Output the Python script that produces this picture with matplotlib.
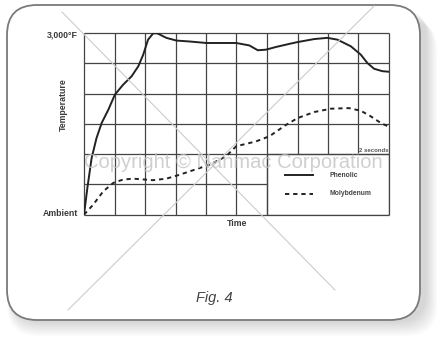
import matplotlib.pyplot as plt
from matplotlib.patches import FancyBboxPatch, Rectangle

# time in grid columns (10 columns of 2 s), temperature in grid rows (6 = 3,000 F)
phen_t = [0.0, 0.11, 0.25, 0.41, 0.58, 0.8, 1.01, 1.28, 1.56, 1.78, 1.94, 2.1,
          2.27, 2.4, 2.7, 3.03, 3.46, 4.01, 4.99, 5.42, 5.7, 5.97, 6.3, 6.73,
          7.0, 7.55, 7.98, 8.31, 8.75, 9.08, 9.29, 9.51, 9.78, 10.0]
phen_y = [0.0, 0.88, 1.87, 2.53, 3.03, 3.47, 3.96, 4.29, 4.57, 4.9, 5.28, 5.78,
          5.99, 5.99, 5.84, 5.75, 5.72, 5.67, 5.67, 5.59, 5.43, 5.45, 5.54, 5.64,
          5.7, 5.8, 5.84, 5.78, 5.56, 5.28, 5.01, 4.82, 4.74, 4.72]
moly_t = [0.0, 0.3, 0.63, 0.96, 1.28, 1.61, 2.26, 2.7, 3.14, 3.46, 4.12, 4.66,
          4.99, 5.64, 6.08, 6.6, 7.0, 7.55, 8.09, 8.69, 9.08, 9.4, 9.73, 10.0]
moly_y = [0.0, 0.33, 0.77, 1.05, 1.16, 1.19, 1.14, 1.19, 1.32, 1.43, 1.65, 1.93,
          2.26, 2.42, 2.59, 2.95, 3.19, 3.39, 3.5, 3.52, 3.43, 3.25, 3.03, 2.9]
series_names = ['Phenolic', 'Molybdenum']

W, H = 437, 346
plt.rcParams['font.family'] = ['Liberation Sans', 'DejaVu Sans']
fig = plt.figure(figsize=(W / 100, H / 100), dpi=100)

# background frame with soft shadow (pixel coords, y up)
bg = fig.add_axes([0, 0, 1, 1], zorder=0)
bg.set_xlim(0, W)
bg.set_ylim(0, H)
bg.axis('off')
fx, fy, fw, fh = 7, H - 320, 413, 315
for k in range(20):
    bg.add_patch(FancyBboxPatch((fx + 6 - k * 0.3, fy - 2 - k * 0.75), fw + k * 0.9, fh,
                                boxstyle='round,pad=0,rounding_size=30',
                                fc='#777777', ec='none', alpha=0.013))
bg.add_patch(FancyBboxPatch((fx, fy), fw, fh, boxstyle='round,pad=0,rounding_size=30',
                            fc='white', ec='#7a7a7a', lw=1.3))
bg.text(214, H - 298, 'Fig. 4', ha='center', va='center', fontsize=10.5,
        style='italic', color='#444444')

# axis labels
tk = dict(fontsize=6.3, fontweight='bold', color='#3a3a3a')
bg.text(78, H - 35, '3,000°F', ha='right', va='center', **tk)
bg.text(78, H - 213, 'Ambient', ha='right', va='center', **tk)
bg.text(63, H - 105, 'Temperature', ha='center', va='center', rotation=90, **tk)
bg.text(237, H - 223, 'Time', ha='center', va='center', **tk)

# chart
ax = fig.add_axes([84 / W, (H - 214.7) / H, 305 / W, 181.7 / H], zorder=1)
ax.set_facecolor('none')
ax.set_xlim(0, 10)
ax.set_ylim(0, 6)
ax.axis('off')
gc = '#444444'
for x in range(11):
    ymin = 2 if 7 <= x <= 9 else 0
    ax.vlines(x, ymin, 6, color=gc, lw=0.9, clip_on=False)
for y in range(7):
    xmax = 6 if y == 1 else 10
    ax.hlines(y, 0, xmax, color=gc, lw=0.9, clip_on=False)
ax.add_patch(Rectangle((6, 0), 4, 2, fc='white', ec=gc, lw=0.9, zorder=0.5))

ax.plot(phen_t, phen_y, color='#222222', lw=1.4, label=series_names[0])
ax.plot(moly_t, moly_y, color='#222222', lw=1.4, ls=(0, (2.2, 2.0)), label=series_names[1])

# legend drawn in the empty lower-right box
ax.plot([6.6, 7.5], [1.3, 1.3], color='#222222', lw=1.4)
ax.plot([6.6, 7.5], [0.7, 0.7], color='#222222', lw=1.4, ls=(0, (2.2, 2.0)))
lk = dict(fontsize=4.9, fontweight='bold', color='#444444', va='center', ha='left')
ax.text(8.05, 1.3, series_names[0], **lk)
ax.text(8.05, 0.7, series_names[1], **lk)
ax.text(9.97, 2.12, '2 seconds', fontsize=4.3, fontweight='bold', color='#555555',
        ha='right', va='center')

# watermark overlay
ov = fig.add_axes([0, 0, 1, 1], zorder=2)
ov.set_facecolor('none')
ov.set_xlim(0, W)
ov.set_ylim(0, H)
ov.axis('off')
ov.plot([62, 335], [H - 12, H - 290], color='#cccccc', lw=0.8)
ov.plot([374, 68], [H - 6, H - 310], color='#cccccc', lw=0.8)
ov.text(233, H - 163, 'Copyright © Nanmac Corporation', ha='center', va='center',
        fontsize=14.5, color='#c4c4c4', alpha=0.8)

plt.savefig('out.png', dpi=100)
